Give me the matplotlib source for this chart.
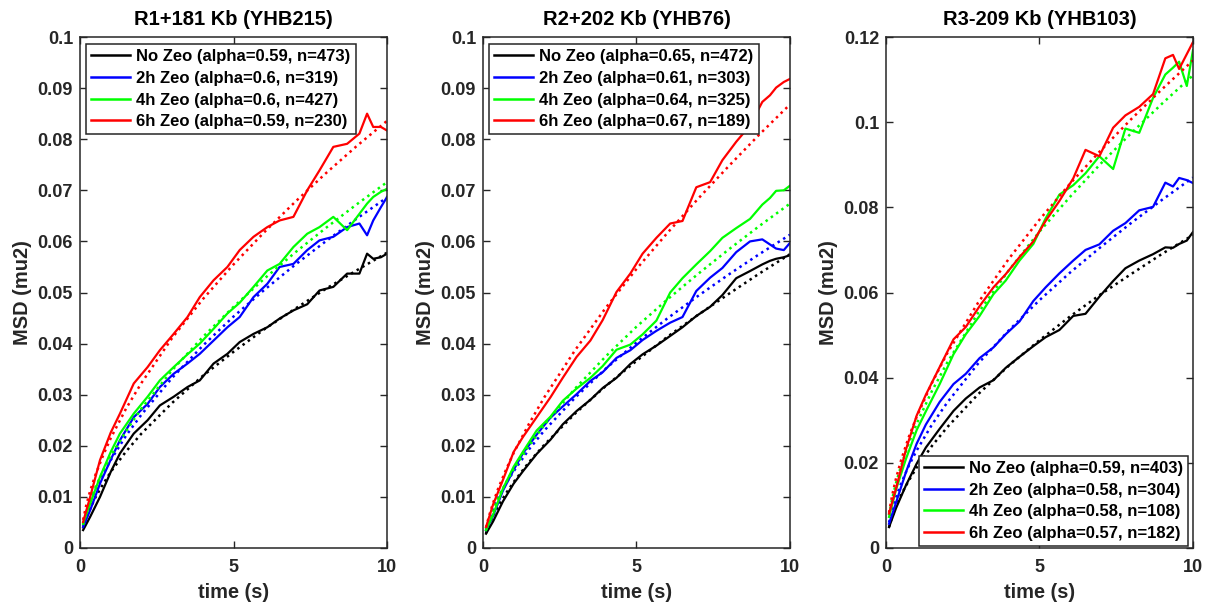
import matplotlib.pyplot as plt
from matplotlib.ticker import FuncFormatter

plt.rcParams['font.family'] = ['Liberation Sans', 'DejaVu Sans']
plt.rcParams['font.weight'] = 'bold'

# time grid of the measured curves and of the fitted curves (s)
t_msd = [0.1, 0.33, 0.65, 1.0, 1.3, 1.75, 2.2, 2.6, 3.05, 3.5, 3.9, 4.35, 4.8, 5.2,
         5.65, 6.1, 6.5, 6.95, 7.4, 7.8, 8.25, 8.7, 9.1, 9.35, 9.55, 9.8, 10.0]
t_fit = [0.1, 0.2, 0.33, 0.5, 0.75, 1, 1.5, 2, 3, 4, 5, 6, 7, 8, 9, 10]

titles = ['R1+181 Kb (YHB215)', 'R2+202 Kb (YHB76)', 'R3-209 Kb (YHB103)']
colors = ['k', 'b', '#00ff00', 'r']
ymax = [0.1, 0.1, 0.12]

# R1+181 Kb
p1_labels = ['No Zeo (alpha=0.59, n=473)', '2h Zeo (alpha=0.6, n=319)',
             '4h Zeo (alpha=0.6, n=427)', '6h Zeo (alpha=0.59, n=230)']
p1_black = [0.0035, 0.0061, 0.0100, 0.0149, 0.0185, 0.0224, 0.0250, 0.0279, 0.0296, 0.0315, 0.0328,
            0.0361, 0.0380, 0.0403, 0.0419, 0.0432, 0.0449, 0.0465, 0.0477, 0.0504, 0.0511, 0.0537,
            0.0537, 0.0576, 0.0566, 0.0569, 0.0576]
p1_blue = [0.0041, 0.0074, 0.0126, 0.0173, 0.0211, 0.0256, 0.0282, 0.0315, 0.0341, 0.0361, 0.0380,
           0.0406, 0.0432, 0.0452, 0.0491, 0.0517, 0.0550, 0.0556, 0.0583, 0.0602, 0.0609, 0.0628,
           0.0635, 0.0612, 0.0641, 0.0667, 0.0687]
p1_green = [0.0048, 0.0087, 0.0139, 0.0188, 0.0224, 0.0263, 0.0296, 0.0328, 0.0354, 0.0379, 0.0400,
            0.0429, 0.0459, 0.0480, 0.0511, 0.0543, 0.0556, 0.0589, 0.0615, 0.0628, 0.0648, 0.0622,
            0.0654, 0.0674, 0.0687, 0.0697, 0.0703]
p1_red = [0.0051, 0.0100, 0.0172, 0.0226, 0.0263, 0.0322, 0.0354, 0.0387, 0.0419, 0.0452, 0.0491,
          0.0524, 0.0550, 0.0583, 0.0609, 0.0628, 0.0641, 0.0648, 0.0700, 0.0739, 0.0785, 0.0791,
          0.0811, 0.0850, 0.0824, 0.0824, 0.0817]
p1_fit_black = [0.0038, 0.0058, 0.0077, 0.0099, 0.0125, 0.0149, 0.0189, 0.0224, 0.0284, 0.0337,
                0.0384, 0.0428, 0.0468, 0.0507, 0.0543, 0.0578]
p1_fit_blue = [0.0043, 0.0066, 0.0089, 0.0114, 0.0145, 0.0172, 0.0220, 0.0261, 0.0333, 0.0396,
               0.0453, 0.0505, 0.0554, 0.0600, 0.0644, 0.0686]
p1_fit_green = [0.0045, 0.0069, 0.0092, 0.0119, 0.0151, 0.0180, 0.0229, 0.0273, 0.0348, 0.0413,
                0.0472, 0.0527, 0.0578, 0.0626, 0.0672, 0.0716]
p1_fit_red = [0.0055, 0.0083, 0.0112, 0.0143, 0.0181, 0.0215, 0.0273, 0.0323, 0.0411, 0.0487,
              0.0555, 0.0618, 0.0677, 0.0733, 0.0786, 0.0836]

# R2+202 Kb
p2_labels = ['No Zeo (alpha=0.65, n=472)', '2h Zeo (alpha=0.61, n=303)',
             '4h Zeo (alpha=0.64, n=325)', '6h Zeo (alpha=0.67, n=189)']
p2_black = [0.0028, 0.0052, 0.0091, 0.0126, 0.0150, 0.0184, 0.0212, 0.0242, 0.0268, 0.0290, 0.0313,
            0.0333, 0.0360, 0.0379, 0.0396, 0.0415, 0.0432, 0.0454, 0.0472, 0.0495, 0.0528, 0.0542,
            0.0555, 0.0562, 0.0566, 0.0569, 0.0573]
p2_blue = [0.0035, 0.0063, 0.0112, 0.0153, 0.0185, 0.0222, 0.0255, 0.0277, 0.0301, 0.0327, 0.0344,
           0.0372, 0.0387, 0.0407, 0.0425, 0.0441, 0.0452, 0.0503, 0.0529, 0.0548, 0.0579, 0.0600,
           0.0604, 0.0594, 0.0586, 0.0583, 0.0597]
p2_green = [0.0035, 0.0065, 0.0116, 0.0159, 0.0188, 0.0230, 0.0257, 0.0288, 0.0312, 0.0333, 0.0356,
            0.0388, 0.0398, 0.0418, 0.0445, 0.0500, 0.0528, 0.0555, 0.0581, 0.0607, 0.0626, 0.0644,
            0.0672, 0.0685, 0.0699, 0.0700, 0.0709]
p2_red = [0.0041, 0.0085, 0.0133, 0.0188, 0.0217, 0.0256, 0.0295, 0.0333, 0.0374, 0.0406, 0.0446,
          0.0501, 0.0537, 0.0576, 0.0607, 0.0635, 0.0640, 0.0706, 0.0716, 0.0759, 0.0795, 0.0827,
          0.0873, 0.0886, 0.0901, 0.0912, 0.0918]
p2_fit_black = [0.0029, 0.0045, 0.0063, 0.0082, 0.0107, 0.0129, 0.0168, 0.0202, 0.0263, 0.0317,
                0.0366, 0.0413, 0.0456, 0.0497, 0.0537, 0.0575]
p2_fit_blue = [0.0037, 0.0056, 0.0077, 0.0099, 0.0126, 0.0150, 0.0193, 0.0230, 0.0294, 0.0351,
               0.0402, 0.0449, 0.0493, 0.0535, 0.0575, 0.0613]
p2_fit_green = [0.0035, 0.0055, 0.0076, 0.0099, 0.0128, 0.0154, 0.0200, 0.0241, 0.0312, 0.0375,
                0.0433, 0.0486, 0.0536, 0.0584, 0.0630, 0.0674]
p2_fit_red = [0.0040, 0.0063, 0.0088, 0.0117, 0.0153, 0.0186, 0.0243, 0.0295, 0.0387, 0.0470,
              0.0546, 0.0616, 0.0683, 0.0747, 0.0809, 0.0868]

# R3-209 Kb
p3_labels = ['No Zeo (alpha=0.59, n=403)', '2h Zeo (alpha=0.58, n=304)',
             '4h Zeo (alpha=0.58, n=108)', '6h Zeo (alpha=0.57, n=182)']
p3_black = [0.0049, 0.0094, 0.0147, 0.0198, 0.0236, 0.0280, 0.0322, 0.0351, 0.0377, 0.0394, 0.0423,
            0.0449, 0.0474, 0.0495, 0.0512, 0.0545, 0.0550, 0.0590, 0.0627, 0.0657, 0.0675, 0.0690,
            0.0706, 0.0705, 0.0714, 0.0722, 0.0742]
p3_blue = [0.0057, 0.0107, 0.0178, 0.0245, 0.0290, 0.0343, 0.0385, 0.0409, 0.0446, 0.0471, 0.0502,
           0.0532, 0.0580, 0.0612, 0.0645, 0.0675, 0.0700, 0.0713, 0.0745, 0.0763, 0.0793, 0.0801,
           0.0858, 0.0849, 0.0869, 0.0864, 0.0857]
p3_green = [0.0073, 0.0138, 0.0209, 0.0277, 0.0321, 0.0385, 0.0455, 0.0502, 0.0545, 0.0596, 0.0628,
            0.0675, 0.0714, 0.0774, 0.0830, 0.0852, 0.0880, 0.0920, 0.0890, 0.0985, 0.0975, 0.1057,
            0.1112, 0.1128, 0.1142, 0.1085, 0.1169]
p3_red = [0.0081, 0.0140, 0.0231, 0.0311, 0.0360, 0.0425, 0.0490, 0.0519, 0.0568, 0.0612, 0.0643,
          0.0683, 0.0720, 0.0768, 0.0815, 0.0868, 0.0935, 0.0920, 0.0987, 0.1016, 0.1036, 0.1066,
          0.1150, 0.1158, 0.1125, 0.1160, 0.1188]
p3_fit_black = [0.0049, 0.0073, 0.0098, 0.0126, 0.0159, 0.0189, 0.0240, 0.0284, 0.0361, 0.0428,
                0.0488, 0.0544, 0.0596, 0.0644, 0.0691, 0.0735]
p3_fit_blue = [0.0060, 0.0090, 0.0120, 0.0153, 0.0194, 0.0229, 0.0290, 0.0342, 0.0433, 0.0511,
               0.0582, 0.0647, 0.0707, 0.0764, 0.0818, 0.0870]
p3_fit_green = [0.0077, 0.0115, 0.0153, 0.0195, 0.0247, 0.0292, 0.0369, 0.0436, 0.0552, 0.0652,
                0.0743, 0.0825, 0.0903, 0.0975, 0.1044, 0.1110]
p3_fit_red = [0.0083, 0.0123, 0.0164, 0.0208, 0.0262, 0.0308, 0.0388, 0.0458, 0.0576, 0.0679,
              0.0771, 0.0856, 0.0934, 0.1008, 0.1078, 0.1145]

panels = [
    (p1_labels, [p1_black, p1_blue, p1_green, p1_red],
     [p1_fit_black, p1_fit_blue, p1_fit_green, p1_fit_red]),
    (p2_labels, [p2_black, p2_blue, p2_green, p2_red],
     [p2_fit_black, p2_fit_blue, p2_fit_green, p2_fit_red]),
    (p3_labels, [p3_black, p3_blue, p3_green, p3_red],
     [p3_fit_black, p3_fit_blue, p3_fit_green, p3_fit_red]),
]

fig = plt.figure(figsize=(12.11, 6.08), dpi=100)
lefts = [0.0661, 0.3988, 0.7316]
dark = '#262626'

for i, (labels, msd, fits) in enumerate(panels):
    ax = fig.add_axes([lefts[i], 0.0987, 0.2535, 0.8404])
    handles = []
    for c, y, yf in zip(colors, msd, fits):
        h, = ax.plot(t_msd, y, color=c, lw=1.6)
        ax.plot(t_fit, yf, color=c, lw=1.8, linestyle=(0, (1, 1.6)))
        handles.append(h)

    ax.set_xlim(0, 10)
    ax.set_ylim(0, ymax[i])
    ax.set_xticks([0, 5, 10])
    if i < 2:
        ax.set_yticks([k / 100 for k in range(11)])
    else:
        ax.set_yticks([k / 50 for k in range(7)])
    ax.yaxis.set_major_formatter(FuncFormatter(lambda v, p: '%g' % round(v, 3)))
    ax.tick_params(direction='in', top=True, right=True, length=5, width=1,
                   colors=dark, labelsize=13, pad=5)
    ax.tick_params(axis='x', pad=8)
    for s in ax.spines.values():
        s.set_color(dark)
        s.set_linewidth(1.1)

    ax.set_title(titles[i], fontsize=14.5, fontweight='bold', pad=9)
    ax.set_xlabel('time (s)', fontsize=14.4, fontweight='bold', color=dark, labelpad=5)
    ax.set_ylabel('MSD (mu2)', fontsize=14.4, fontweight='bold', color=dark, labelpad=4)

    if i < 2:
        loc, anchor = 'upper left', (0.021, 0.986)
    else:
        loc, anchor = 'lower right', (0.985, 0.004)
    leg = ax.legend(handles, labels, loc=loc, bbox_to_anchor=anchor, borderaxespad=0,
                    fontsize=12, handlelength=2.3, handletextpad=0.4, labelspacing=0.4,
                    borderpad=0.3, fancybox=False, framealpha=1, edgecolor=dark)
    leg.get_frame().set_linewidth(1.1)
    for txt in leg.get_texts():
        txt.set_fontweight('bold')
    for line in leg.get_lines():
        line.set_linewidth(1.8)

plt.savefig('out.png', dpi=100)
